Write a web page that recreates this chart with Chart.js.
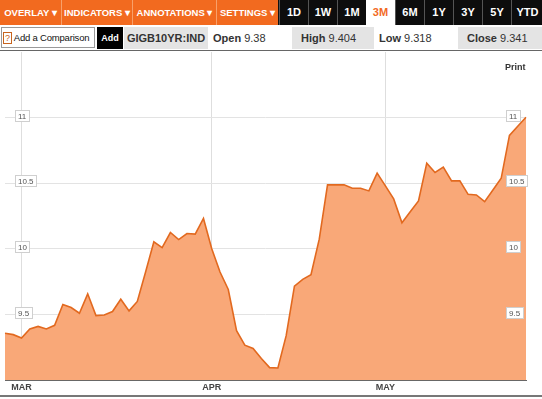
<!DOCTYPE html>
<html>
<head>
<meta charset="utf-8">
<script src="https://cdn.jsdelivr.net/npm/chart.js@4/dist/chart.umd.min.js"></script>
<style>
  body { margin: 0; width: 542px; height: 399px; overflow: hidden; background: #fff;
         font-family: "Liberation Sans", Arial, sans-serif; position: relative; }
  .bar { position: absolute; top: 0; left: 0; width: 542px; height: 25px; background: #111; }
  .bar div { position: absolute; top: 0; height: 25px; line-height: 25px; text-align: center;
             color: #fff; font-weight: bold; font-size: 9.5px; white-space: nowrap; }
  .bar .menu { background: #f26a1f; border-right: 1px solid #f8a06a; }
  .bar .tf { background: #0d0d0d; border-left: 1px solid #555; font-size: 11px; }
  .bar .tf.on { background: #fff; color: #f26a1f; border-left: none; }
  .row { position: absolute; top: 27px; left: 0; width: 542px; height: 22px; font-size: 11px; color: #333; }
  .row div { position: absolute; top: 0; height: 22px; line-height: 22px; white-space: nowrap; }
  .cmp { left: 1px; width: 92px; height: 19px !important; line-height: 19px !important; border: 1px solid #999;
         font-size: 9.5px; letter-spacing: -0.2px; color: #111; background: #fff; overflow: hidden; }
  .cmp span { color: #c8641e; border: 1px solid #c8641e; font-size: 9px; padding: 0 1px; margin: 0 2px 0 1px; line-height: 10px; }
  .add { left: 97px; width: 26px; background: #000; color: #fff; font-weight: bold; font-size: 9px; text-align: center; }
  .gray { background: #e4e4e4; }
  b { color: #333; }
  .sep { position: absolute; top: 50px; left: 0; width: 542px; height: 1px; background: #666; }
  .box { position: absolute; top: 51px; left: 0; width: 542px; height: 348px; }
  .print { position: absolute; top: 62px; left: 505px; font-size: 9px; font-weight: bold; color: #333; }
  .bottom { position: absolute; top: 395px; left: 0; width: 542px; height: 2px; background: #777; }
</style>
</head>
<body>
<div class="bar">
  <div class="menu" style="left:0;width:61px">OVERLAY &#9662;</div>
  <div class="menu" style="left:62px;width:70px">INDICATORS &#9662;</div>
  <div class="menu" style="left:133px;width:83px">ANNOTATIONS &#9662;</div>
  <div class="menu" style="left:217px;width:61px;border-right:none">SETTINGS &#9662;</div>
  <div class="tf" style="left:279px;width:28px">1D</div>
  <div class="tf" style="left:308px;width:28px">1W</div>
  <div class="tf" style="left:337px;width:28px">1M</div>
  <div class="tf on" style="left:366px;width:29px">3M</div>
  <div class="tf" style="left:395px;width:28px">6M</div>
  <div class="tf" style="left:424px;width:28px">1Y</div>
  <div class="tf" style="left:453px;width:28px">3Y</div>
  <div class="tf" style="left:482px;width:28px">5Y</div>
  <div class="tf" style="left:511px;width:31px">YTD</div>
</div>
<div class="row">
  <div class="cmp"><span>?</span>Add a Comparison</div>
  <div class="add">Add</div>
  <div class="gray" style="left:124px;width:84px;text-align:center;font-weight:bold;font-size:11px">GIGB10YR:IND</div>
  <div style="left:213px"><b>Open</b> 9.38</div>
  <div class="gray" style="left:292px;width:82px"><span style="margin-left:9px"><b>High</b> 9.404</span></div>
  <div style="left:379px"><b>Low</b> 9.318</div>
  <div class="gray" style="left:458px;width:84px"><span style="margin-left:9px"><b>Close</b> 9.341</span></div>
</div>
<div class="sep"></div>
<div class="box"><canvas id="chart"></canvas></div>
<div class="print">Print</div>
<div class="bottom"></div>
<script>
// 3-month daily yield
const yields = [
  9.357, 9.347, 9.321, 9.390, 9.410, 9.390, 9.418, 9.577, 9.554, 9.510,
  9.658, 9.492, 9.497, 9.523, 9.617, 9.528, 9.600, 9.824, 10.054, 10.010,
  10.125, 10.071, 10.117, 10.113, 10.232, 10.002, 9.824, 9.691, 9.377, 9.267,
  9.242, 9.165, 9.096, 9.093, 9.339, 9.717, 9.768, 9.803, 10.074, 10.488,
  10.488, 10.488, 10.462, 10.462, 10.442, 10.577, 10.480, 10.381, 10.199, 10.283,
  10.365, 10.653, 10.582, 10.623, 10.518, 10.518, 10.416, 10.411, 10.360, 10.449,
  10.538, 10.865, 10.934, 11.003
];
const days = yields.map((_, i) => i);
const monthStarts = [2, 25, 46];
const monthLabels = ['MAR', 'APR', 'MAY'];
const yTicks = [9.5, 10, 10.5, 11];

// boxed value labels on both sides of the plot
const yLabelBoxes = {
    id: 'yLabelBoxes',
    afterDatasetsDraw(chart) {
        const { ctx, chartArea } = chart;
        const y = chart.scales.y;
        ctx.save();
        ctx.font = '8px "Liberation Sans", Arial, sans-serif';
        ctx.textBaseline = 'middle';
        yTicks.forEach(v => {
            const label = String(v);
            const py = Math.round(y.getPixelForValue(v)) - 2;
            const w = Math.ceil(ctx.measureText(label).width) + 6;
            [chartArea.left + 10, chartArea.right - 20].forEach(x0 => {
                ctx.fillStyle = '#fff';
                ctx.fillRect(x0, py - 6, w, 12);
                ctx.strokeStyle = '#cfcfcf';
                ctx.lineWidth = 1;
                ctx.strokeRect(x0 + 0.5, py - 5.5, w - 1, 11);
                ctx.fillStyle = '#555';
                ctx.fillText(label, x0 + 3, py + 0.5);
            });
        });
        ctx.restore();
    }
};

const ctx = document.getElementById('chart').getContext('2d');
const chart = new Chart(ctx, {
    type: 'line',
    data: {
        labels: days,
        datasets: [{
            data: yields,
            borderColor: '#e2691f',
            backgroundColor: '#f9a878',
            borderWidth: 1.6,
            fill: 'start',
            pointRadius: 0,
            tension: 0
        }]
    },
    options: {
        responsive: true,
        maintainAspectRatio: false,
        animation: false,
        layout: { padding: { top: 1, left: 5, right: 16, bottom: 4 } },
        plugins: {
            legend: { display: false },
            tooltip: { enabled: false }
        },
        scales: {
            x: {
                afterBuildTicks: s => { s.ticks = monthStarts.map(i => ({ value: i })); },
                ticks: {
                    autoSkip: false,
                    maxRotation: 0,
                    padding: 2,
                    color: '#444',
                    font: { family: '"Liberation Sans", Arial, sans-serif', size: 9, weight: 'bold' },
                    callback: (v, i) => monthLabels[i]
                },
                grid: { color: '#dedede', drawTicks: false },
                border: { color: '#666', width: 1 }
            },
            y: {
                min: 9,
                max: 11.5,
                afterBuildTicks: s => { s.ticks = yTicks.map(v => ({ value: v })); },
                ticks: { display: false },
                grid: { color: '#e3e3e3', drawTicks: false },
                border: { display: false }
            }
        }
    },
    plugins: [yLabelBoxes]
});
</script>
</body>
</html>
